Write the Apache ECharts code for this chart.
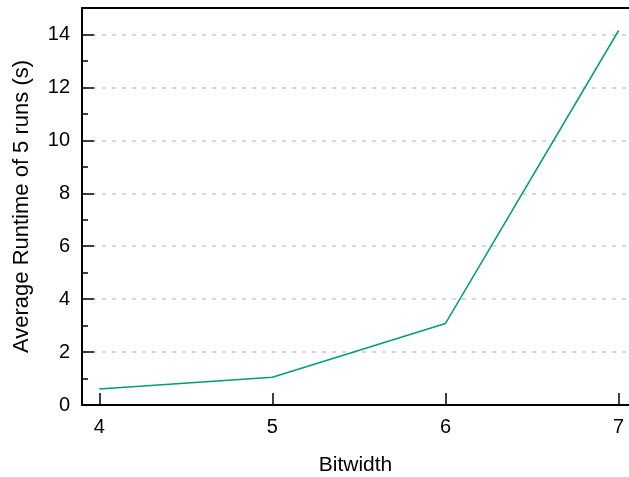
<!DOCTYPE html>
<html><head><meta charset="utf-8">
<script src="https://cdn.jsdelivr.net/npm/echarts@6/dist/echarts.min.js"></script>
<style>html,body{margin:0;padding:0;background:#fff}#c{width:629px;height:477px}</style>
</head><body><div id="c"></div>
<script>
const bitwidths = [4, 5, 6, 7];
const runtimes = [0.6, 1.05, 3.08, 14.15];
const xTicks = [4, 5, 6, 7];
const yTicks = [0, 2, 4, 6, 8, 10, 12, 14];
const yMinor = [1, 3, 5, 7, 9, 11, 13];

const font = 'Liberation Sans, Arial, sans-serif';
const chart = echarts.init(document.getElementById('c'));
chart.setOption({
  animation: false,
  grid: {left: 82, right: 0, top: 8, bottom: 72, containLabel: false, outerBoundsMode: 'none'},
  xAxis: [{
    type: 'value', min: 3.9, max: 7.06,
    name: 'Bitwidth', nameLocation: 'middle', nameGap: 50,
    nameTextStyle: {fontFamily: font, fontSize: 21, color: '#000'},
    axisLine: {show: true, onZero: false, lineStyle: {color: '#000', width: 2}},
    axisTick: {show: true, inside: true, length: 12, lineStyle: {color: '#000', width: 1.5}, customValues: xTicks},
    axisLabel: {fontFamily: font, fontSize: 20, color: '#000', margin: 12, customValues: xTicks},
    splitLine: {show: false}
  }, {
    type: 'value', min: 3.9, max: 7.06, position: 'top',
    axisLine: {show: true, onZero: false, lineStyle: {color: '#000', width: 2}},
    axisTick: {show: false}, axisLabel: {show: false}, splitLine: {show: false}
  }],
  yAxis: [{
    type: 'value', min: 0, max: 15, interval: 1,
    name: 'Average Runtime of 5 runs (s)', nameLocation: 'middle', nameGap: 49,
    nameTextStyle: {fontFamily: font, fontSize: 22, color: '#000'},
    axisLine: {show: true, onZero: false, lineStyle: {color: '#000', width: 2}},
    axisTick: {show: true, inside: true, length: 12, lineStyle: {color: '#000', width: 1.5}, customValues: yTicks},
    minorTick: {show: false},
    axisLabel: {fontFamily: font, fontSize: 20, color: '#000', margin: 12, customValues: yTicks},
    splitLine: {show: false}
  }, {
    type: 'value', min: 0, max: 15, interval: 1, position: 'left',
    axisLine: {show: false},
    axisTick: {show: true, inside: true, length: 6, lineStyle: {color: '#000', width: 1.5}, customValues: yMinor},
    axisLabel: {show: false},
    splitLine: {show: false}
  }, {
    type: 'value', min: 0, max: 15, interval: 2, position: 'left',
    axisLine: {show: false}, axisTick: {show: false}, axisLabel: {show: false},
    splitLine: {show: true, lineStyle: {color: '#cccccc', width: 1.5, type: [4, 6]}}
  }],
  series: [{
    type: 'line', xAxisIndex: 0, yAxisIndex: 0,
    data: bitwidths.map((b, i) => [b, runtimes[i]]),
    showSymbol: false, symbol: 'none',
    lineStyle: {color: '#009e73', width: 1.5}
  }]
});
</script></body></html>
